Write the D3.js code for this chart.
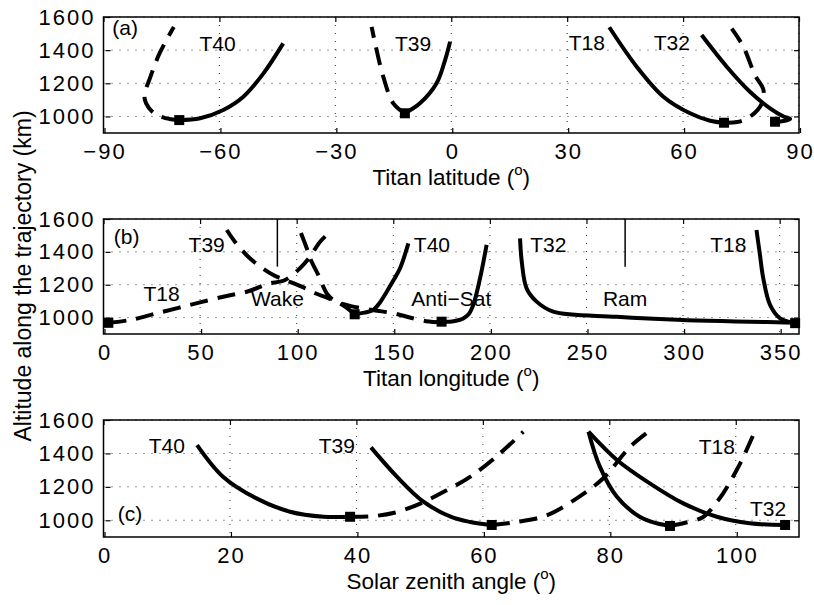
<!DOCTYPE html>
<html lang="en">
<head>
<meta charset="UTF-8">
<title>Titan flybys altitude</title>
<script src="https://d3js.org/d3.v7.min.js"></script>
<style>
  body { margin: 0; background: #fff; }
  svg text { font-family: "Liberation Sans", Arial, Helvetica, sans-serif; fill: #000; }
  .grid line { stroke: #333; stroke-width: 1; stroke-dasharray: 1,7; }
  .trace { fill: none; stroke: #000; stroke-width: 4; stroke-linejoin: round; }
  .dashed { stroke-dasharray: 18,10; }
</style>
</head>
<body>
<script>
// shared altitude axis
const altDomain = [900, 1600];
const altTicks = [1000, 1200, 1400, 1600];

// ---------- panel (a): Titan latitude ----------
const latTicks = [-90, -60, -30, 0, 30, 60, 90];
const latT40 = [[-70.4,978],[-65,989],[-59,1039],[-53.8,1119],[-48.6,1260],[-43.5,1441]];
const latT40dash = [[-70.4,978],[-74,990],[-77,1020],[-79,1080],[-79.4,1130],[-78,1230],[-75.5,1380],[-71.8,1540]];
const latT39 = [[-12,1019],[-8.1,1079],[-3.8,1200],[-1.6,1340],[-0.3,1451]];
const latT39dash = [[-12,1019],[-15,1079],[-17.6,1240],[-19.7,1441],[-20.6,1540]];
const latT18 = [[40.9,1538],[48,1300],[54.9,1119],[61.8,1019],[67,974],[70.6,962]];
const latT18dash = [[70.6,962],[74,966],[77.3,998],[80.4,1079],[80.8,1160],[78.6,1250],[75.6,1421],[72.6,1530]];
const latT32 = [[64.8,1491],[71.3,1300],[77.3,1149],[82.5,1049],[86,1000],[87.7,985],[86,972],[83.8,968]];
const latMarks = [[-70.4,978],[-12,1019],[70.6,962],[83.8,968]];
const latLabels = [["(a)",-84.4,1534],["T40",-60.5,1443],["T39",-9.9,1443],["T18",35.1,1449],["T32",57.1,1449]];

// ---------- panel (b): Titan longitude ----------
const lonTicks = [0, 50, 100, 150, 200, 250, 300, 350];
const lonT18dash = [[2.5,968],[13.7,985],[27.5,1026],[44.8,1077],[62,1127],[75,1160],[85,1205],[94,1229],[101.7,1300],[106.6,1365],[112,1460],[118,1530]];
const lonT39dash = [[130,1020],[124,1075],[116,1120],[109.6,1148],[102.6,1188],[94,1229],[87.9,1259],[80,1320],[74,1381],[68,1462],[63.8,1533]];
const lonT40dash = [[175,972],[167,978],[157,1005],[150,1026],[140,1045],[128,1070],[120,1100],[116,1140],[111.2,1259],[106.9,1361],[105.2,1422],[101.7,1530]];
const lonT39 = [[130,1020],[135,1030],[139.6,1046],[143,1090],[146.6,1157],[150,1225],[153.5,1300],[157.8,1452]];
const lonT40 = [[175,975],[179.3,975],[183,982],[186.2,995],[189,1020],[191.4,1077],[194.9,1239],[198.3,1442]];
const lonT32 = [[215.6,1482],[216.5,1340],[219,1178],[224.2,1097],[232.8,1036],[265.6,1005],[300,985],[334.6,975],[358,968]];
const lonT18 = [[338,1533],[339.8,1381],[341.5,1239],[345,1077],[350.2,995],[357,968],[360,965]];
const lonMarks = [[2.5,968],[130,1020],[175,975],[358,966]];
const lonLabels = [["(b)",12,1492],["T39",53.4,1442],["T18",30.1,1148],["T40",170,1442],["T32",230.2,1442],["T18",323.4,1442]];
const sectorLines = [90, 270];
const sectorLabels = [["Wake",90],["Anti\u2212Sat",180],["Ram",270]];

// ---------- panel (c): solar zenith angle ----------
const szaTicks = [0, 20, 40, 60, 80, 100];
const szaT40 = [[14.8,1450],[18.9,1261],[24.2,1131],[29.5,1051],[34.8,1021],[39,1021]];
const szaT40dash = [[39,1021],[42.4,1024],[46,1045],[50.1,1100],[54.3,1180],[58.2,1265],[62.7,1400],[66.4,1530]];
const szaT39 = [[42.3,1436],[46.4,1261],[50.6,1111],[55,1020],[58,990],[61.4,972]];
const szaT39dash = [[61.4,972],[65,988],[70,1028],[74.8,1130],[79,1250],[83.3,1440],[86.2,1530]];
const szaT18 = [[76.7,1530],[78.5,1321],[81.2,1141],[84.8,1021],[87.5,982],[89.6,966]];
const szaT18dash = [[89.6,966],[92,985],[94.9,1021],[97,1110],[98,1161],[100.7,1341],[103,1530]];
const szaT32 = [[76.7,1530],[81.2,1361],[86.4,1221],[91.7,1101],[97,1021],[102.2,982],[107.8,972]];
const szaMarks = [[39,1021],[61.4,972],[89.6,966],[107.8,972]];
const szaLabels = [["T40",10,1450],["T39",36.9,1450],["(c)",4.2,1038],["T18",97,1440],["T32",105.1,1072]];

const width = 814, height = 605;
const left = 103.5, right = 799;

const svg = d3.select("body").append("svg")
  .attr("width", width).attr("height", height);
svg.append("rect").attr("width", width).attr("height", height).attr("fill", "#fff");

const panels = [
  { id: "a", top: 17, bottom: 133, xDomain: [-90, 90], xTicks: latTicks, title: "Titan latitude (",
    solid: [latT40, latT39, latT18, latT32], dashed: [latT40dash, latT39dash, latT18dash],
    marks: latMarks, labels: latLabels },
  { id: "b", top: 219, bottom: 334, xDomain: [0, 360], xTicks: lonTicks, title: "Titan longitude (",
    solid: [lonT39, lonT40, lonT32, lonT18], dashed: [lonT18dash, lonT39dash, lonT40dash],
    marks: lonMarks, labels: lonLabels, sectors: true },
  { id: "c", top: 420, bottom: 537, xDomain: [0, 110], xTicks: szaTicks, title: "Solar zenith angle (",
    solid: [szaT40, szaT39, szaT18, szaT32], dashed: [szaT40dash, szaT39dash, szaT18dash],
    marks: szaMarks, labels: szaLabels }
];

panels.forEach(p => {
  const x = d3.scaleLinear().domain(p.xDomain).range([left, right]);
  const y = d3.scaleLinear().domain(altDomain).range([p.bottom, p.top]);
  const g = svg.append("g");

  // dotted grid
  const grid = g.append("g").attr("class", "grid");
  grid.selectAll(".gx").data(p.xTicks).join("line").attr("class", "gx")
    .attr("x1", d => x(d)).attr("x2", d => x(d)).attr("y1", p.top).attr("y2", p.bottom);
  grid.selectAll(".gy").data(altTicks).join("line").attr("class", "gy")
    .attr("x1", left).attr("x2", right).attr("y1", d => y(d)).attr("y2", d => y(d));

  // clip to plot box
  g.append("clipPath").attr("id", "clip-" + p.id)
    .append("rect").attr("x", left).attr("y", p.top).attr("width", right - left).attr("height", p.bottom - p.top);
  const plot = g.append("g").attr("clip-path", `url(#clip-${p.id})`);

  const line = d3.line().x(d => x(d[0])).y(d => y(d[1])).curve(d3.curveCatmullRom.alpha(0.5));

  if (p.sectors) {
    plot.selectAll(".sector").data(sectorLines).join("line")
      .attr("x1", d => x(d)).attr("x2", d => x(d)).attr("y1", y(1600)).attr("y2", y(1310))
      .attr("stroke", "#000").attr("stroke-width", 1.5);
  }

  plot.selectAll(".dash").data(p.dashed).join("path")
    .attr("class", "trace dashed").attr("d", line);
  plot.selectAll(".solid").data(p.solid).join("path")
    .attr("class", "trace").attr("d", line);

  g.selectAll(".mark").data(p.marks).join("rect")
    .attr("x", d => x(d[0]) - 5).attr("y", d => y(d[1]) - 5)
    .attr("width", 10).attr("height", 10).attr("fill", "#000");

  // text labels inside the panel
  g.selectAll(".lab").data(p.labels).join("text")
    .attr("x", d => x(d[1])).attr("y", d => y(d[2]))
    .attr("text-anchor", "middle").attr("dominant-baseline", "central")
    .attr("font-size", 21).text(d => d[0]);

  if (p.sectors) {
    g.selectAll(".sec").data(sectorLabels).join("text")
      .attr("x", d => x(d[1])).attr("y", y(1117))
      .attr("text-anchor", "middle").attr("dominant-baseline", "central")
      .attr("font-size", 21).text(d => d[0]);
  }

  // axes with inward ticks
  const style = a => a.call(s => s.select(".domain").remove())
    .selectAll("text").attr("font-size", 22).attr("letter-spacing", 2)
    .attr("font-family", "'Liberation Sans', Arial, sans-serif");
  style(g.append("g").attr("transform", `translate(1,${p.bottom})`)
    .call(d3.axisBottom(x).tickValues(p.xTicks).tickSizeInner(-5).tickSizeOuter(0).tickPadding(10)));
  g.append("g").attr("transform", `translate(0,${p.top})`)
    .call(d3.axisTop(x).tickValues(p.xTicks).tickSizeInner(-5).tickSizeOuter(0).tickFormat(""))
    .call(s => s.select(".domain").remove());
  style(g.append("g").attr("transform", `translate(${left + 2},0)`)
    .call(d3.axisLeft(y).tickValues(altTicks).tickSizeInner(-5).tickSizeOuter(0).tickPadding(10).tickFormat(d3.format("d"))));
  g.append("g").attr("transform", `translate(${right},0)`)
    .call(d3.axisRight(y).tickValues(altTicks).tickSizeInner(-5).tickSizeOuter(0).tickFormat(""))
    .call(s => s.select(".domain").remove());
  g.selectAll(".tick line").attr("stroke", "#000").attr("stroke-width", 1.2);

  g.append("rect").attr("x", left).attr("y", p.top)
    .attr("width", right - left).attr("height", p.bottom - p.top)
    .attr("fill", "none").attr("stroke", "#000").attr("stroke-width", 1.5);

  // x axis title with superscript degree "o"
  const t = g.append("text").attr("x", (left + right) / 2).attr("y", p.bottom + 51.5)
    .attr("text-anchor", "middle").attr("font-size", 22.5);
  t.append("tspan").text(p.title);
  t.append("tspan").attr("font-size", 15).attr("dy", -10).text("o");
  t.append("tspan").attr("dy", 10).text(")");
});

svg.append("text").attr("transform", "translate(31,276) rotate(-90)")
  .attr("text-anchor", "middle").attr("font-size", 23)
  .text("Altitude along the trajectory (km)");
</script>
</body>
</html>
